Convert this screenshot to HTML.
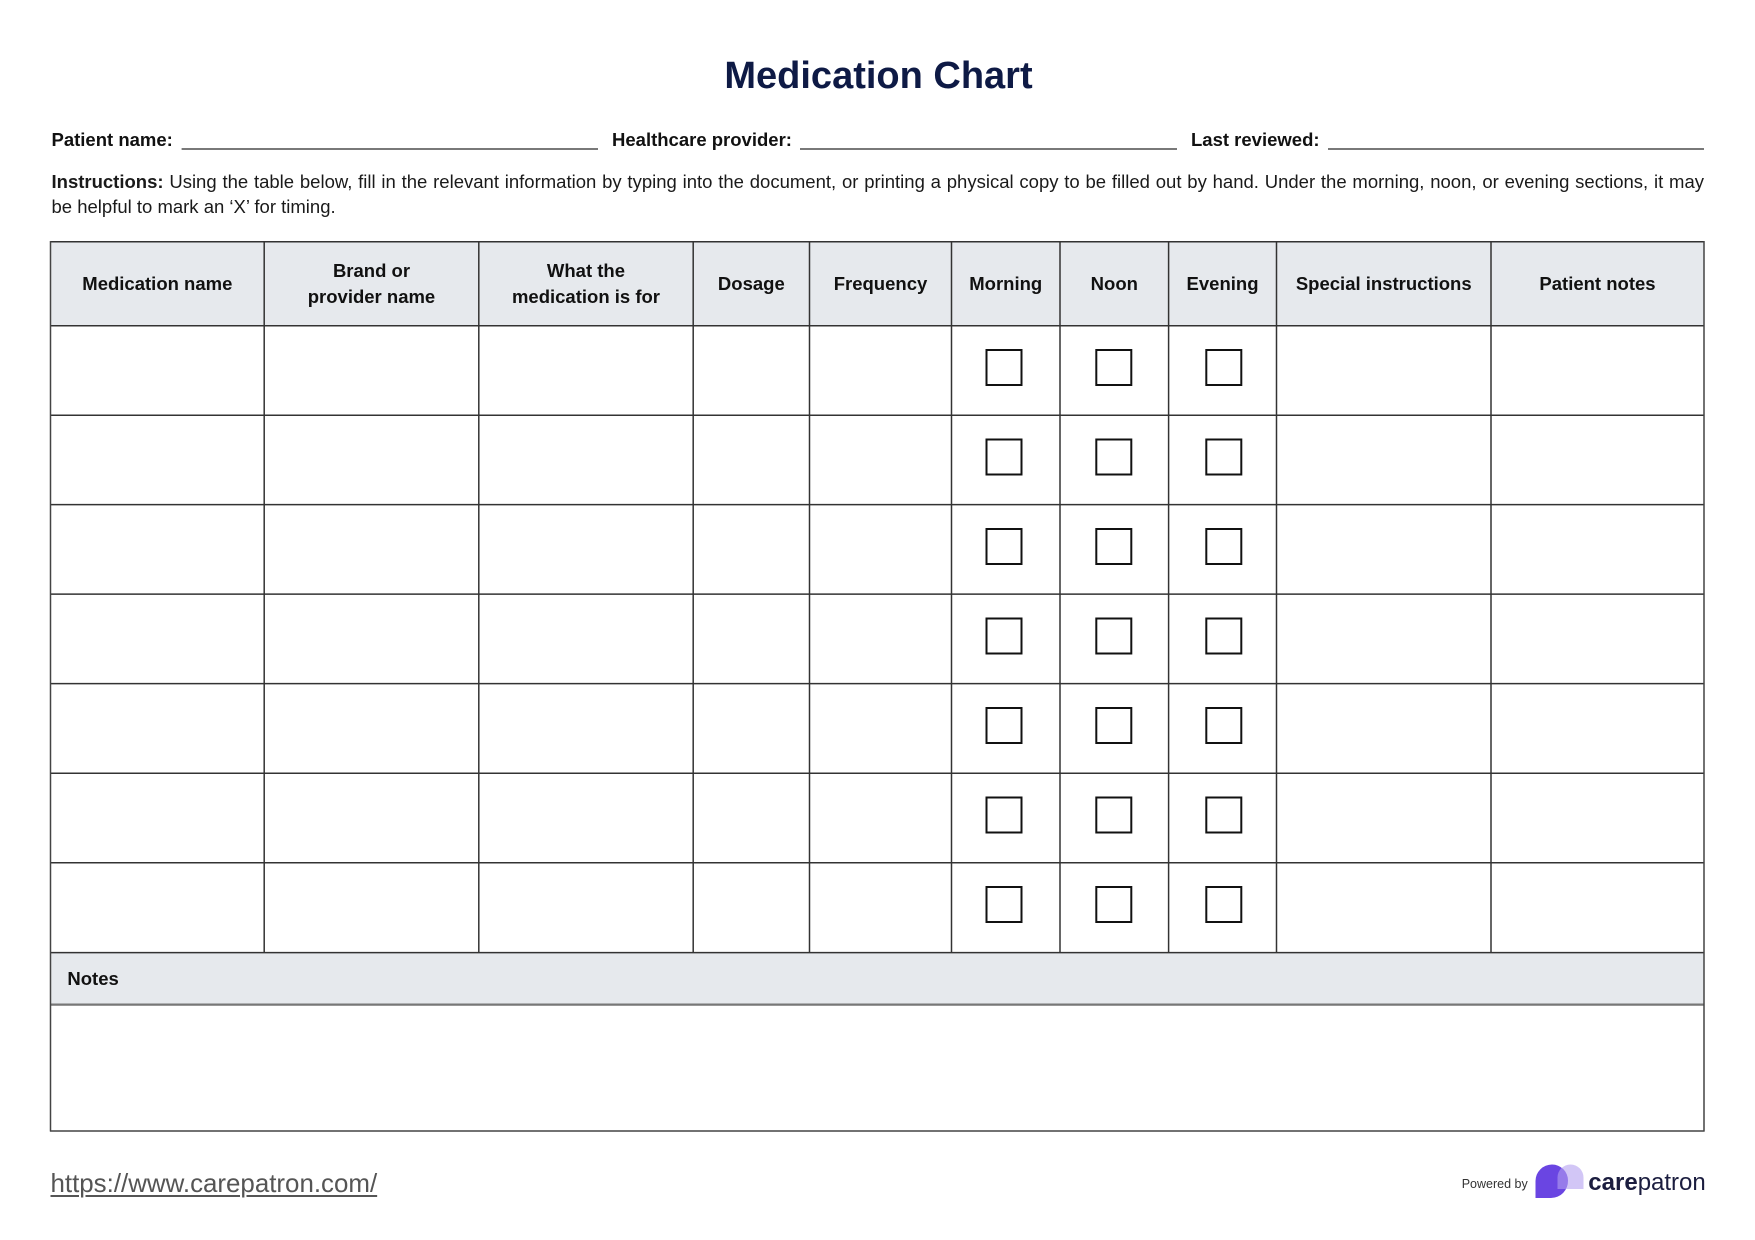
<!DOCTYPE html>
<html>
<head>
<meta charset="utf-8">
<style>
  html, body { margin:0; padding:0; background:#ffffff; }
  body { width:1755px; height:1240px; position:relative; overflow:hidden;
         font-family:"Liberation Sans", Arial, sans-serif; color:#111; }
  .abs { position:absolute; white-space:nowrap; }
  .title { left:0; width:1757px; top:56.5px; text-align:center; font-size:38px; line-height:38px;
           font-weight:bold; color:#0e1a45; }
  .lbl { font-size:18.5px; line-height:18.5px; font-weight:bold; color:#111; top:131px; }
  .instr { left:51.5px; width:1652.5px; top:168.8px; font-size:18.5px; line-height:25.5px; color:#1a1a1a; white-space:normal; }
  .instr .l1 { text-align:justify; text-align-last:justify; white-space:normal; }
  .hcell { position:absolute; top:241.7px; height:84px; display:flex; align-items:center; justify-content:center;
           text-align:center; font-size:18.5px; line-height:25.4px; font-weight:bold; color:#111; }
  .notes { left:67.4px; top:952.6px; height:52px; display:flex; align-items:center; font-size:18.5px;
           line-height:25.4px; font-weight:bold; color:#111; position:absolute; }
  .url { left:50.5px; top:1171.5px; font-size:25.9px; line-height:25.9px; color:#555; text-decoration:underline;
         text-decoration-thickness:1.5px; text-underline-offset:3px; }
  .pby { left:1461.7px; top:1178.4px; font-size:12.5px; line-height:12.5px; color:#333; }
  .cp { left:1588.3px; top:1170.5px; font-size:24px; line-height:24px; color:#1b1d3f; letter-spacing:0; }
  .cp b { font-weight:bold; }
</style>
</head>
<body>

<div class="abs title">Medication Chart</div>

<div class="abs lbl" style="left:51.5px;">Patient name:</div>
<div class="abs lbl" style="left:612px;">Healthcare provider:</div>
<div class="abs lbl" style="left:1191px;">Last reviewed:</div>

<svg class="abs" style="left:0;top:0;" width="1755" height="1240" xmlns="http://www.w3.org/2000/svg">
  <g stroke="#666" stroke-width="1.8">
    <line x1="181.6" y1="149" x2="598" y2="149"/>
    <line x1="800" y1="149" x2="1177" y2="149"/>
    <line x1="1328" y1="149" x2="1704" y2="149"/>
  </g>
  <rect x="50.5" y="241.7" width="1653.5" height="84" fill="#e6e9ed"/>
  <rect x="50.5" y="952.6" width="1653.5" height="52" fill="#e6e9ed"/>
  <g stroke="#333" stroke-width="1.5">
    <line x1="264.2" y1="241.7" x2="264.2" y2="952.6"/>
    <line x1="478.8" y1="241.7" x2="478.8" y2="952.6"/>
    <line x1="693.2" y1="241.7" x2="693.2" y2="952.6"/>
    <line x1="809.5" y1="241.7" x2="809.5" y2="952.6"/>
    <line x1="951.5" y1="241.7" x2="951.5" y2="952.6"/>
    <line x1="1060" y1="241.7" x2="1060" y2="952.6"/>
    <line x1="1168.6" y1="241.7" x2="1168.6" y2="952.6"/>
    <line x1="1276.5" y1="241.7" x2="1276.5" y2="952.6"/>
    <line x1="1491" y1="241.7" x2="1491" y2="952.6"/>
  </g>
  <g stroke="#333" stroke-width="1.5">
    <line x1="50.5" y1="241.7" x2="1704" y2="241.7"/>
    <line x1="50.5" y1="325.7" x2="1704" y2="325.7"/>
    <line x1="50.5" y1="415.2" x2="1704" y2="415.2"/>
    <line x1="50.5" y1="504.6" x2="1704" y2="504.6"/>
    <line x1="50.5" y1="594.1" x2="1704" y2="594.1"/>
    <line x1="50.5" y1="683.6" x2="1704" y2="683.6"/>
    <line x1="50.5" y1="773.2" x2="1704" y2="773.2"/>
    <line x1="50.5" y1="862.8" x2="1704" y2="862.8"/>
    <line x1="50.5" y1="952.6" x2="1704" y2="952.6"/>
  </g>
  <line x1="50.5" y1="1004.6" x2="1704" y2="1004.6" stroke="#777" stroke-width="2.2"/>
  <g stroke="#444" stroke-width="1.5" fill="none">
    <line x1="50.5" y1="241" x2="50.5" y2="1131.5"/>
    <line x1="1704" y1="241" x2="1704" y2="1131.5"/>
    <line x1="50" y1="1131" x2="1704.5" y2="1131"/>
  </g>
  <g stroke="#111" stroke-width="2" fill="none">
    <rect x="986.5" y="350" width="35" height="35"/>
    <rect x="1096.3" y="350" width="35" height="35"/>
    <rect x="1206.3" y="350" width="35" height="35"/>

    <rect x="986.5" y="439.5" width="35" height="35"/>
    <rect x="1096.3" y="439.5" width="35" height="35"/>
    <rect x="1206.3" y="439.5" width="35" height="35"/>

    <rect x="986.5" y="529" width="35" height="35"/>
    <rect x="1096.3" y="529" width="35" height="35"/>
    <rect x="1206.3" y="529" width="35" height="35"/>

    <rect x="986.5" y="618.5" width="35" height="35"/>
    <rect x="1096.3" y="618.5" width="35" height="35"/>
    <rect x="1206.3" y="618.5" width="35" height="35"/>

    <rect x="986.5" y="708" width="35" height="35"/>
    <rect x="1096.3" y="708" width="35" height="35"/>
    <rect x="1206.3" y="708" width="35" height="35"/>

    <rect x="986.5" y="797.5" width="35" height="35"/>
    <rect x="1096.3" y="797.5" width="35" height="35"/>
    <rect x="1206.3" y="797.5" width="35" height="35"/>

    <rect x="986.5" y="887" width="35" height="35"/>
    <rect x="1096.3" y="887" width="35" height="35"/>
    <rect x="1206.3" y="887" width="35" height="35"/>
  </g>
  <path d="M1535.5 1198 L1535.5 1181 A16.5 16.5 0 0 1 1552 1164.5 A16 16 0 0 1 1568 1180.5 A17 17 0 0 1 1551 1198 Z" fill="#6a45e2"/>
  <path d="M1557.5 1189 L1557.5 1177.5 A13 13 0 0 1 1583.5 1177.5 L1583.5 1189 Z" fill="rgba(180,160,240,0.6)"/>
</svg>

<div class="abs instr">
  <div class="l1"><b>Instructions:</b> Using the table below, fill in the relevant information by typing into the document, or printing a physical copy to be filled out by hand. Under the morning, noon, or evening sections, it may</div>
  <div>be helpful to mark an ‘X’ for timing.</div>
</div>

<div class="hcell" style="left:50.5px;width:213.7px;">Medication name</div>
<div class="hcell" style="left:264.2px;width:214.6px;">Brand or<br>provider name</div>
<div class="hcell" style="left:478.8px;width:214.4px;">What the<br>medication is for</div>
<div class="hcell" style="left:693.2px;width:116.3px;">Dosage</div>
<div class="hcell" style="left:809.5px;width:142px;">Frequency</div>
<div class="hcell" style="left:951.5px;width:108.5px;">Morning</div>
<div class="hcell" style="left:1060px;width:108.6px;">Noon</div>
<div class="hcell" style="left:1168.6px;width:107.9px;">Evening</div>
<div class="hcell" style="left:1276.5px;width:214.5px;">Special instructions</div>
<div class="hcell" style="left:1491px;width:213px;">Patient notes</div>

<div class="notes">Notes</div>

<div class="abs url">https://www.carepatron.com/</div>
<div class="abs pby">Powered by</div>
<div class="abs cp"><b>care</b>patron</div>

</body>
</html>
